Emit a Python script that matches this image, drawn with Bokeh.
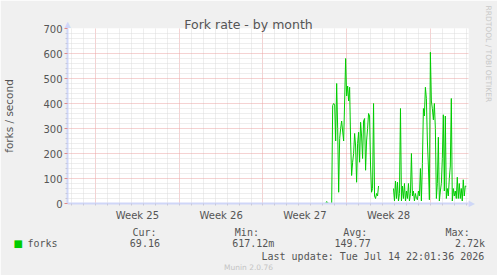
import math
import numpy as np
from bokeh.plotting import figure
from bokeh.models import ColumnDataSource, FixedTicker, Label, Range1d
from bokeh.embed import file_html
from bokeh.resources import INLINE

NaN = float("nan")

# ---------------- data ----------------
title_text = "Fork rate - by month"
y_axis_title = "forks / second"
week_labels = ["Week 25", "Week 26", "Week 27", "Week 28"]
week_start_days = [0, 7, 14, 21, 28]          # day 0 = start of week 25
view_start_day = -2.34
view_end_day = 31.18
y_max = 700
y_ticks = [0, 100, 200, 300, 400, 500, 600, 700]
y_minor_step = 20

first_sample_day = 18.66
sample_step_days = 2.0 / 24.0
forks = [
    0, 0, 0, 0, 0, 0, 0, 0, 8, 4, 0, 0, 0, 0,
    392, 400, 395, 250, 480, 300, 45, 260, 300, 330, 290, 250, 410, 580,
    430, 470, 410, 465, 250, 112, 165, 200, 280, 230, 85, 240, 285, 165,
    325, 270, 180, 330, 340, 133, 250, 300, 360, 350, 150, 45, 60, 400,
    30, 20, 40, 30, 70,
    NaN, NaN, NaN, NaN, NaN, NaN, NaN, NaN, NaN, NaN, NaN, NaN, NaN, NaN,
    60, 10, 90, 20, 85, 10, 40, 380, 10, 70, 20, 80, 10, 50, 20, 80,
    10, 40, 200, 30, 50, 10, 40, 20, 15, 50, 30, 140, 10, 160, 380, 350,
    465, 420, 250, 150, 15, 605, 410, 380, 335, 400, 300, 20, 80, 265,
    10, 50, 80, 180, 355, 50, 350, 20, 60, 30, 100, 150, 420, 10, 60, 30,
    50, 20, 105, 20, 80, 20, 60, 10, 95, 30, 70, 69,
]

series_name = "forks"
stat_names = ["Cur:", "Min:", "Avg:", "Max:"]
stat_values = ["69.16", "617.12m", "149.77", "2.72k"]
last_update = "Last update: Tue Jul 14 22:01:36 2026"
version_text = "Munin 2.0.76"
watermark_text = "RRDTOOL / TOBI OETIKER"

# ---------------- style / layout ----------------
BG = "#F0F0F0"
TXT = "#555555"
AXIS_C = "#CFD6F8"
MGRID = "#EBA4A4"
MTICK = "#E08888"
GRID = "#DCDCDC"
LINE_C = "#00CC00"
FONT = "DejaVu Sans"
MONO = "DejaVu Sans Mono"
CHAR_W = 6.02
NBSP = "\u00A0"

W, H = 497, 275
FL, FR, FT, FB = 67, 468, 28, 203

p = figure(width=W, height=H, output_backend="svg", toolbar_location=None,
           x_range=Range1d(view_start_day, view_end_day), y_range=Range1d(0, y_max),
           min_border_left=FL, min_border_right=W - FR, min_border_top=FT,
           min_border_bottom=H - FB, background_fill_color="white",
           border_fill_color=BG, outline_line_color=None, title=None)

# x axis / grid
day_ticks = list(range(math.ceil(view_start_day), math.floor(view_end_day) + 1))
mid_week = [w + 3.5 for w in week_start_days[:len(week_labels)]]
p.xaxis.ticker = FixedTicker(ticks=mid_week, minor_ticks=day_ticks)
p.xaxis.major_label_overrides = {m: lab for m, lab in zip(mid_week, week_labels)}
p.xaxis.major_label_text_font = FONT
p.xaxis.major_label_text_font_size = "10px"
p.xaxis.major_label_text_color = TXT
p.xaxis.major_label_standoff = 4
p.xaxis.major_tick_out = 0
p.xaxis.major_tick_in = 0
p.xaxis.major_tick_line_color = None
p.xaxis.minor_tick_out = 2
p.xaxis.minor_tick_in = 0
p.xaxis.minor_tick_line_color = "#C8C8D8"
p.xaxis.axis_line_color = AXIS_C
p.xaxis.axis_line_width = 2
xg = FixedTicker(ticks=week_start_days,
                 minor_ticks=[d for d in day_ticks if d not in week_start_days])
p.xgrid.ticker = xg
p.xgrid.grid_line_color = MGRID
p.xgrid.grid_line_dash = "1 1"
p.xgrid.minor_grid_line_color = GRID
p.xgrid.minor_grid_line_dash = "1 1"

# y axis / grid
y_minor = [v for v in range(0, y_max + 1, y_minor_step) if v not in y_ticks]
yt = FixedTicker(ticks=y_ticks, minor_ticks=y_minor)
p.yaxis.ticker = yt
p.yaxis.major_label_text_font = FONT
p.yaxis.major_label_text_font_size = "10px"
p.yaxis.major_label_text_color = TXT
p.yaxis.major_label_standoff = 2
p.yaxis.major_tick_out = 3
p.yaxis.major_tick_in = 0
p.yaxis.major_tick_line_color = MTICK
p.yaxis.minor_tick_out = 2
p.yaxis.minor_tick_in = 0
p.yaxis.minor_tick_line_color = "#C8C8D8"
p.yaxis.axis_line_color = AXIS_C
p.yaxis.axis_line_width = 2
p.yaxis.axis_label = y_axis_title
p.yaxis.axis_label_text_font = FONT
p.yaxis.axis_label_text_font_size = "10.5px"
p.yaxis.axis_label_text_font_style = "normal"
p.yaxis.axis_label_text_color = TXT
p.yaxis.axis_label_standoff = 25
p.ygrid.ticker = yt
p.ygrid.grid_line_color = MGRID
p.ygrid.grid_line_dash = "1 1"
p.ygrid.minor_grid_line_color = GRID
p.ygrid.minor_grid_line_dash = "1 1"

# series
xs = [first_sample_day + i * sample_step_days for i in range(len(forks))]
src = ColumnDataSource(dict(x=np.array(xs), y=np.array(forks, dtype=float)))
p.line("x", "y", source=src, line_color=LINE_C, line_width=1)


# ---- texts outside the frame: labels kept in side panels (not clipped),
# positioned through the plot's own scales (page pixel -> data) ----
def dx(cx):
    return view_start_day + (cx - FL) * (view_end_day - view_start_day) / (FR - FL)


def dy(cy):
    return (FB - cy) * y_max / (FB - FT)


def panel_label(side, text, cx, cy, size, font=FONT, color=TXT, align="left",
                baseline="alphabetic", angle=0.0):
    p.add_layout(Label(x=dx(cx), y=dy(cy), x_units="data", y_units="data",
                       text=text, text_font=font, text_font_size=size,
                       text_color=color, text_align=align, text_baseline=baseline,
                       angle=angle), side)


def mono_row(items, x0):
    row = ""
    for text, cx in items:
        col = int(round((cx - x0) / CHAR_W))
        row += NBSP * max(col - len(row), 1 if row else 0) + text
    return row


# above: title, axis arrow
panel_label("above", title_text, 248, 24, "12.5px", align="center")
panel_label("above", "\u25B2", 67, 23.5, "8px", color=AXIS_C, align="center",
            baseline="middle")

# right: watermark, axis arrow, legend swatch
panel_label("right", watermark_text, 488, 5, "7.5px", color="#C8C8C8",
            baseline="middle", angle=-math.pi / 2)
panel_label("right", "\u25B6", 471, 203, "8px", color=AXIS_C, align="center",
            baseline="middle")
panel_label("right", "\u25A0", 13, 242.5, "10px", color=LINE_C)

# below: legend rows
names_x0 = 132
names_row = mono_row(zip(stat_names, [132, 236, 341.7, 446.7]), names_x0)
vals_x0 = 27
vals_row = mono_row([(series_name, 27)] + list(zip(stat_values, [131, 230, 336, 453.3])),
                    vals_x0)
panel_label("below", names_row, names_x0, 231.5, "10px", font=MONO)
panel_label("below", vals_row, vals_x0, 243, "10px", font=MONO)
panel_label("below", last_update, 261, 255.5, "10px", font=MONO)
panel_label("below", version_text, 248, 266.5, "7.5px", color="#C4C4C4", align="center")

open("out.html", "w").write(file_html(p, INLINE))
